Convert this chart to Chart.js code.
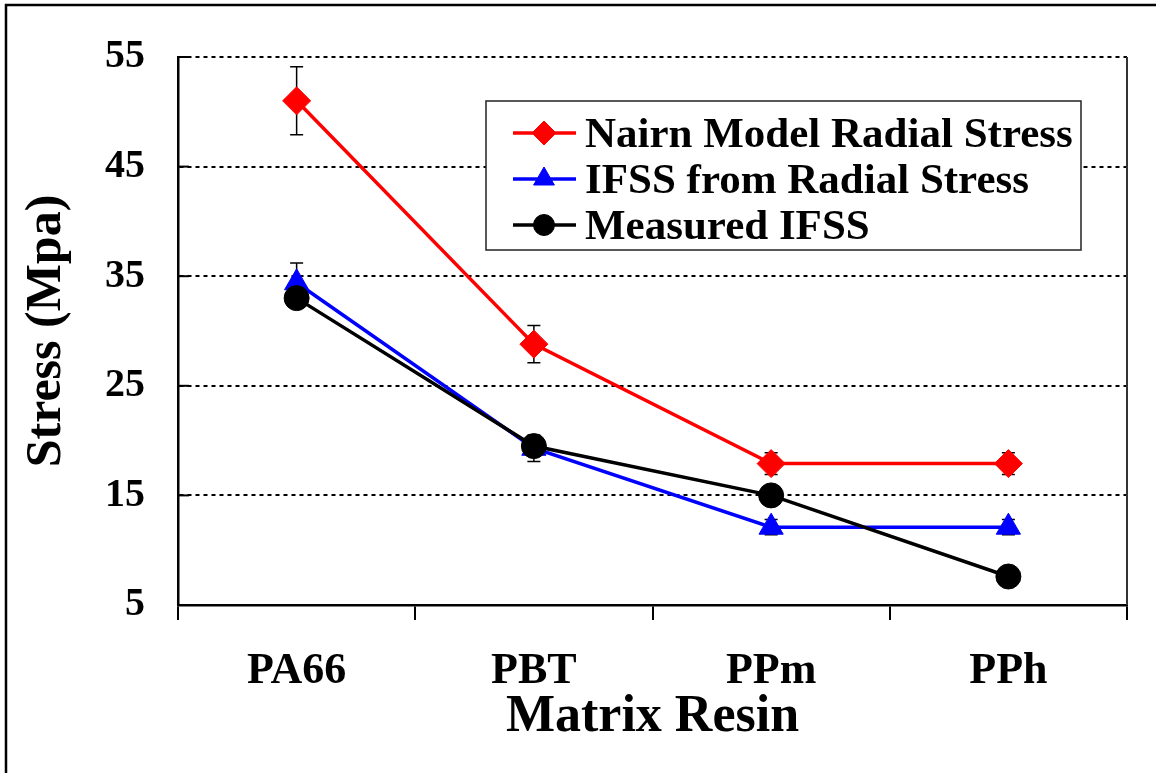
<!DOCTYPE html>
<html>
<head>
<meta charset="utf-8">
<title>Stress vs Matrix Resin</title>
<script src="https://cdn.jsdelivr.net/npm/chart.js@4.4.1/dist/chart.umd.min.js"></script>
<style>
  html, body { margin: 0; padding: 0; background: #fff; }
  #chart { display: block; }
</style>
</head>
<body>
<canvas id="chart" width="1156" height="773"></canvas>
<script>
// data
const categories = ["PA66", "PBT", "PPm", "PPh"];
const nairnStress = [51.0, 28.8, 17.9, 17.9];
const nairnErr = [3.1, 1.7, 1.0, 1.0];
const ifssRadial = [34.4, 19.3, 12.1, 12.1];
const ifssRadialErr = [1.8, 1.2, 0.7, 0.7];
const measuredIfss = [33.0, 19.5, 15.0, 7.6];
const yTicks = [5, 15, 25, 35, 45, 55];

const seriesNames = ["Nairn Model Radial Stress", "IFSS from Radial Stress", "Measured IFSS"];

const FONT = "'Liberation Serif', 'Times New Roman', serif";

// error bars (behind the markers)
const errorBarPlugin = {
  id: "errorBars",
  beforeDatasetsDraw(chart) {
    const ctx = chart.ctx;
    const xs = chart.scales.x;
    const ys = chart.scales.y;
    const sets = [[nairnStress, nairnErr], [ifssRadial, ifssRadialErr]];
    ctx.save();
    ctx.strokeStyle = "#000";
    ctx.lineWidth = 1.5;
    sets.forEach(([vals, errs]) => {
      vals.forEach((v, i) => {
        const x = xs.getPixelForValue(i);
        const yTop = ys.getPixelForValue(v + errs[i]);
        const yBot = ys.getPixelForValue(v - errs[i]);
        ctx.beginPath();
        ctx.moveTo(x, yTop); ctx.lineTo(x, yBot);
        ctx.moveTo(x - 6.5, yTop); ctx.lineTo(x + 6.5, yTop);
        ctx.moveTo(x - 6.5, yBot); ctx.lineTo(x + 6.5, yBot);
        ctx.stroke();
      });
    });
    ctx.restore();
  }
};

// frame, inner y ticks, right border, legend box
const decorPlugin = {
  id: "decor",
  beforeDatasetsDraw(chart) {
    const ctx = chart.ctx;
    const a = chart.chartArea;
    const ys = chart.scales.y;
    ctx.save();
    ctx.strokeStyle = "#000";
    ctx.lineWidth = 2;
    yTicks.forEach(t => {
      const y = ys.getPixelForValue(t);
      ctx.beginPath();
      ctx.moveTo(a.left, y);
      ctx.lineTo(a.left + 11, y);
      ctx.stroke();
    });
    ctx.strokeStyle = "#333";
    ctx.lineWidth = 2;
    ctx.beginPath();
    ctx.moveTo(a.right, a.top);
    ctx.lineTo(a.right, a.bottom);
    ctx.stroke();
    ctx.restore();
  },
  afterDraw(chart) {
    const ctx = chart.ctx;
    ctx.save();
    // outer frame (cropped on right/bottom)
    ctx.strokeStyle = "#000";
    ctx.lineWidth = 2.5;
    ctx.beginPath();
    ctx.moveTo(6, 800);
    ctx.lineTo(6, 5);
    ctx.lineTo(1200, 5);
    ctx.stroke();

    // legend
    const bx = 486, by = 101, bw = 595, bh = 149;
    ctx.fillStyle = "#fff";
    ctx.fillRect(bx, by, bw, bh);
    ctx.strokeStyle = "#222";
    ctx.lineWidth = 1.5;
    ctx.strokeRect(bx, by, bw, bh);

    const colors = ["#ff0000", "#0000ff", "#000000"];
    const styles = ["rectRot", "triangle", "circle"];
    const radii = [12, 12, 10.5];
    const baselines = [147, 193, 239];
    ctx.font = "bold 43px " + FONT;
    ctx.textAlign = "left";
    ctx.textBaseline = "alphabetic";
    seriesNames.forEach((name, i) => {
      const yc = baselines[i] - 14;
      ctx.strokeStyle = colors[i];
      ctx.lineWidth = 3.5;
      ctx.beginPath();
      ctx.moveTo(513, yc);
      ctx.lineTo(576, yc);
      ctx.stroke();
      ctx.fillStyle = colors[i];
      ctx.strokeStyle = colors[i];
      ctx.lineWidth = 1;
      Chart.helpers.drawPoint(ctx, { pointStyle: styles[i], radius: radii[i], rotation: 0, borderWidth: 1 }, 544, yc);
      ctx.fillStyle = "#000";
      ctx.fillText(name, 585, baselines[i]);
    });
    ctx.restore();
  }
};

const ctx = document.getElementById("chart").getContext("2d");
new Chart(ctx, {
  type: "line",
  data: {
    labels: categories,
    datasets: [
      {
        label: seriesNames[0],
        data: nairnStress,
        borderColor: "#ff0000",
        backgroundColor: "#ff0000",
        borderWidth: 3.5,
        pointStyle: "rectRot",
        pointRadius: 14,
        pointBorderWidth: 1,
        order: 2
      },
      {
        label: seriesNames[1],
        data: ifssRadial,
        borderColor: "#0000ff",
        backgroundColor: "#0000ff",
        borderWidth: 3.5,
        pointStyle: "triangle",
        pointRadius: 14,
        pointBorderWidth: 1,
        order: 1
      },
      {
        label: seriesNames[2],
        data: measuredIfss,
        borderColor: "#000000",
        backgroundColor: "#000000",
        borderWidth: 3.5,
        pointStyle: "circle",
        pointRadius: 12.5,
        pointBorderWidth: 1,
        order: 0
      }
    ]
  },
  options: {
    responsive: false,
    animation: false,
    layout: { padding: { top: 53, right: 29, left: 0, bottom: 0 } },
    plugins: {
      legend: { display: false },
      tooltip: { enabled: false }
    },
    scales: {
      x: {
        offset: true,
        afterFit: (s) => { s.height = 168; },
        grid: {
          offset: true,
          drawOnChartArea: false,
          drawTicks: true,
          tickLength: 15,
          color: "#000",
          lineWidth: 2
        },
        border: { display: true, color: "#000", width: 2.5 },
        ticks: {
          color: "#000",
          padding: 25,
          font: { family: FONT, size: 44, weight: "bold" }
        },
        title: {
          display: true,
          text: "Matrix Resin",
          color: "#000",
          font: { family: FONT, size: 52, weight: "bold", lineHeight: 1 },
          padding: { top: 0, bottom: 29 }
        }
      },
      y: {
        min: 5,
        max: 55,
        afterFit: (s) => { s.width = 178; },
        afterBuildTicks: (s) => { s.ticks = yTicks.map(v => ({ value: v })); },
        grid: {
          drawTicks: false,
          color: "#000",
          lineWidth: 2
        },
        border: { display: true, color: "#000", width: 2.5, dash: [4, 4] },
        ticks: {
          color: "#000",
          padding: 33,
          font: { family: FONT, size: 40, weight: "bold" }
        },
        title: {
          display: true,
          text: "Stress (Mpa)",
          color: "#000",
          font: { family: FONT, size: 50, weight: "bold", lineHeight: 1 },
          padding: { top: 22, bottom: 0 }
        }
      }
    }
  },
  plugins: [errorBarPlugin, decorPlugin]
});
</script>
</body>
</html>
